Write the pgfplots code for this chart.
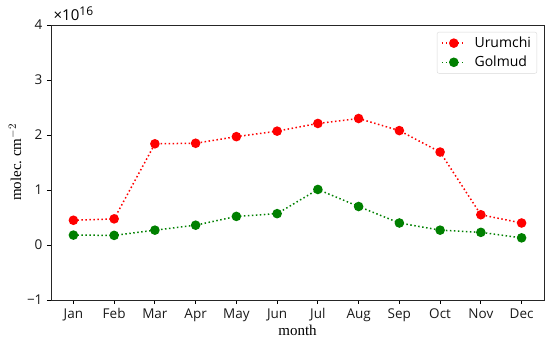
\documentclass[border=0pt]{standalone}
\usepackage{fontspec}
\setmainfont{Liberation Serif}
\newfontfamily\tickfont{Open Sans}
\usepackage{pgfplots}
\pgfplotsset{compat=1.18}
\definecolor{mplred}{RGB}{255,0,0}
\definecolor{mplgreen}{RGB}{0,128,0}
\begin{document}
\begin{tikzpicture}
\useasboundingbox (-51pt,-43pt) rectangle (499pt,300pt);
\begin{axis}[
  scale only axis,
  width=493pt, height=275pt,
  xmin=-0.55, xmax=11.55,
  ymin=-1, ymax=4,
  xtick={0,...,11},
  xticklabels={Jan,Feb,Mar,Apr,May,Jun,Jul,Aug,Sep,Oct,Nov,Dec},
  ytick={-1,0,1,2,3,4},
  yticklabels={−1,0,1,2,3,4},
  tick align=outside,
  xtick pos=bottom, ytick pos=left,
  major tick length=4pt,
  tick style={black, line width=0.8pt},
  axis line style={line width=0.8pt, black!85},
  ticklabel style={font=\tickfont\fontsize{13.5}{15}\selectfont, text=black!90},
  xticklabel style={yshift=-1pt},
  yticklabel style={xshift=-1pt},
  xlabel={month},
  ylabel={molec.\ cm$^{-2}$},
  label style={font=\fontsize{15}{17}\selectfont},
  xlabel style={at={(axis description cs:0.5,-0.109)}, anchor=center},
  ylabel style={at={(axis description cs:-0.073,0.5)}, anchor=center},
  legend style={at={(axis description cs:0.986,0.975)}, anchor=north east,
    draw=black!15, rounded corners=2pt, font=\tickfont\fontsize{14}{16}\selectfont,
    inner xsep=4pt, inner ysep=3pt, row sep=3pt},
  legend cell align=left,
  legend image code/.code={
    \draw[#1, mark=none] (-2pt,0pt) -- (22pt,0pt);
    \draw[#1, solid] plot coordinates {(10pt,0pt)};
  },
  clip=false,
]
\addplot[mplred, line width=1.5pt, dash pattern=on 1.5pt off 2.5pt,
  mark=*, mark size=4pt, mark options={solid, fill=mplred, draw=mplred}]
  coordinates {(0,0.45) (1,0.475) (2,1.84) (3,1.85) (4,1.97) (5,2.07) (6,2.21) (7,2.30) (8,2.08) (9,1.69) (10,0.55) (11,0.40)};
\addlegendentry{\hspace{6pt}Urumchi}
\addplot[mplgreen, line width=1.5pt, dash pattern=on 1.5pt off 2.5pt,
  mark=*, mark size=4pt, mark options={solid, fill=mplgreen, draw=mplgreen}]
  coordinates {(0,0.18) (1,0.175) (2,0.27) (3,0.36) (4,0.52) (5,0.57) (6,1.01) (7,0.70) (8,0.40) (9,0.27) (10,0.23) (11,0.13)};
\addlegendentry{\hspace{6pt}Golmud}
\node[anchor=south west, font=\tickfont\fontsize{15}{17}\selectfont, inner sep=0pt] at (axis description cs:0.005,1.015) {×10\textsuperscript{\fontsize{12}{13}\selectfont 16}};
\end{axis}
\end{tikzpicture}
\end{document}
